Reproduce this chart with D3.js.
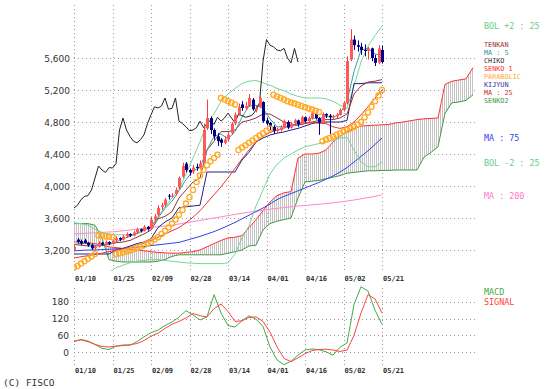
<!DOCTYPE html>
<html>
<head>
<meta charset="utf-8">
<script src="https://cdn.jsdelivr.net/npm/d3@7/dist/d3.min.js"></script>
<style>
  body { margin: 0; background: #fff; }
  svg { display: block; }
</style>
</head>
<body>
<div id="chart"></div>
<script>
// x axis labels, one every 11 sessions starting 01/10
var dateLabels = ["01/10", "01/25", "02/09", "02/28", "03/14", "04/01", "04/16", "05/02", "05/21"];
var priceTicks = [3200, 3600, 4000, 4400, 4800, 5200, 5600];
var macdTicks = [0, 60, 120, 180];

// daily candles, 89 sessions
var opens = [3200,3330,3310,3320,3290,3260,3220,3240,3290,3270, 3300,3280,3320,3350,3330,3370,3400,3380,3420,3460,
  3440,3490,3460,3580,3640,3740,3760,3880,3870,3900, 3980,4120,4280,4200,4180,4240,4230,4300,4720,4850,
  4700,4620,4580,4540,4580,4660,4780,4900,5020,4970, 5000,5080,4950,4990,5050,4820,4790,4740,4690,4700,
  4730,4800,4730,4790,4820,4770,4860,4810,4850,4900, 4850,4790,4900,4880,4860,4870,4890,4950,5040,5580,
  5830,5760,5740,5700,5690,5720,5600,5540,5700];
var highs = [3260,3350,3330,3340,3300,3280,3260,3310,3300,3320, 3310,3340,3370,3360,3390,3420,3410,3440,3480,3470,
  3510,3500,3620,3650,3760,3790,3850,3900,3910,3980, 4120,4290,4300,4220,4260,4280,4320,4780,5080,4870,
  4720,4660,4600,4620,4680,4800,4920,5030,5060,5050, 5150,5100,5000,5130,5060,4850,4800,4760,4730,4760,
  4830,4820,4800,4840,4830,4880,4870,4870,4930,4910, 4860,4920,4910,4900,4890,4910,4970,5060,5620,5960,
  5880,5820,5790,5770,5740,5730,5640,5760,5750];
var lows = [3180,3280,3260,3280,3240,3200,3200,3230,3250,3260, 3260,3270,3300,3310,3320,3350,3360,3370,3400,3420,
  3430,3440,3450,3560,3620,3700,3740,3830,3850,3880, 3960,4100,4170,4130,4150,4190,4210,4290,4700,4650,
  4580,4500,4490,4520,4560,4640,4760,4880,4940,4950, 4990,4940,4920,4980,4790,4760,4700,4650,4660,4680,
  4720,4710,4720,4760,4740,4760,4790,4800,4830,4830, 4640,4780,4850,4650,4840,4850,4880,4930,5020,5560,
  5700,5680,5640,5620,5580,5560,5500,5520,5530];
var closes = [3240,3300,3280,3290,3260,3220,3240,3290,3270,3300, 3280,3320,3350,3330,3370,3400,3380,3420,3460,3440,
  3490,3460,3580,3620,3725,3760,3830,3870,3880,3950, 4100,4250,4200,4170,4230,4225,4280,4700,4850,4700,
  4620,4560,4540,4580,4640,4780,4890,4990,4975,5000, 5100,4960,4970,5100,4810,4780,4740,4690,4700,4730,
  4810,4730,4780,4820,4770,4860,4810,4850,4910,4850, 4790,4900,4880,4860,4870,4890,4950,5040,5560,5830,
  5760,5740,5700,5690,5720,5600,5540,5720,5550];

// indicator lines, one value every 2 sessions from 01/10
var ma5 = [3270,3280,3280,3260,3260,3280,3300,3340,3370,3410,3450,3490,3600,3720,3810,3940,4080,4190,4230,4450,
  4620,4650,4590,4680,4860,5000,5010,4970,4840,4740,4740,4760,4780,4810,4850,4840,4870,4860,4900,5060,
  5430,5700,5720,5650,5630];
var ma25 = [3100,3115,3130,3145,3160,3180,3200,3215,3235,3260,3285,3320,3360,3400,3440,3480,3540,3610,3690,3790,
  3890,3990,4100,4220,4340,4450,4550,4620,4670,4700,4725,4760,4780,4790,4790,4785,4780,4740,4720,4740,
  4800,4890,4990,5100,5200];
var ma75 = [3190,3195,3200,3200,3205,3210,3215,3220,3225,3235,3245,3255,3265,3275,3285,3295,3320,3345,3370,3400,
  3430,3465,3505,3545,3590,3635,3680,3725,3775,3830,3870,3905,3940,3975,4010,4045,4085,4125,4175,4230,
  4300,4370,4440,4520,4600];
var ma200 = [3400,3405,3410,3415,3420,3425,3430,3440,3450,3460,3470,3480,3490,3500,3510,3525,3540,3555,3570,3585,
  3600,3615,3630,3645,3660,3672,3685,3697,3710,3720,3730,3740,3750,3757,3765,3772,3780,3790,3800,3812,
  3825,3840,3855,3870,3890];
var bolUp = [3540,3530,3510,3460,3420,3400,3390,3390,3390,3400,3440,3500,3620,3740,3850,3960,4150,4350,4550,4780,
  4900,5060,5150,5220,5280,5310,5320,5290,5260,5220,5190,5150,5120,5100,5100,5100,5090,5060,5010,4970,
  5250,5550,5750,5880,6000];
var bolDn = [2700,2720,2760,2800,2850,2920,2980,3010,3040,3060,3070,3080,3080,3070,3060,3050,3040,3035,3030,3030,
  3030,3030,3040,3150,3350,3500,3750,3950,4150,4270,4350,4400,4450,4490,4510,4530,4550,4570,4600,4610,
  4450,4300,4240,4240,4300];
var tenkan = [3270,3260,3250,3250,3260,3270,3290,3300,3320,3360,3400,3450,3590,3620,3680,3850,3950,4050,4100,4450,
  4560,4680,4680,4700,4800,4820,4850,4900,4900,4850,4800,4760,4760,4780,4800,4820,4830,4830,4850,4900,
  5150,5250,5300,5310,5330];
var kijun = [3150,3150,3150,3150,3150,3150,3200,3220,3250,3280,3300,3340,3480,3550,3600,3730,3740,3750,3760,4175,
  4175,4175,4175,4175,4325,4420,4550,4600,4637,4660,4675,4700,4720,4750,4780,4800,4800,4800,4800,4820,
  5280,5280,5290,5290,5290];
// leading spans run 26 sessions past the last candle
var senko1 = [3300,3300,3290,3280,3260,3240,3230,3220,3210,3200,3190,3180,3170,3165,3160,3160,3170,3180,3200,3240,
  3280,3320,3350,3360,3380,3480,3580,3690,3800,3880,3915,3930,4350,4400,4400,4410,4450,4550,4625,4680,
  4720,4750,4755,4760,4765,4770,4790,4800,4815,4830,4840,4845,4850,5270,5310,5325,5340,5480];
var senko2 = [3530,3530,3530,3510,3350,3080,3060,3050,3050,3050,3050,3050,3060,3080,3120,3140,3140,3140,3140,3140,
  3140,3140,3160,3180,3200,3250,3260,3450,3530,3560,3580,3600,3850,4050,4060,4070,4090,4110,4130,4160,
  4170,4180,4190,4190,4195,4195,4200,4200,4200,4200,4360,4420,4490,4910,5040,5050,5070,5140];
// parabolic SAR, one per session
var sar = [2980,3000,3030,3060,3090,3120,3150, 3380,3375,3370,3365,3360,
  3150,3160,3170,3180,3195,3210,3225,3240,3260,3280,3300,3330,3360,3400,3440,3480,3530,3580,3640,3700,3780,3860,3950,4050,4130,4200,4260,4310,4350,4390,
  5100,5080,5060,5040,5020,
  4450,4480,4510,4540,4570,4600,4630,4660,4690,4720,
  5140,5120,5100,5080,5060,5045,5030,5015,5000,4985,4970,4955,4940,4925,
  4560,4580,4600,4620,4640,4660,4680,4700,4720,4740,4770,4800,4860,4920,4990,5060,5130,5200];
var chikoLag = 24;

var macd = [38,46,40,28,14,10,22,26,25,38,55,70,79,95,108,125,148,133,115,126,205,140,95,90,112,130,118,92,19,-27,
  -44,-32,-10,8,12,9,2,-10,18,33,170,233,218,150,100];
var signal = [40,44,38,28,21,19,22,24,27,31,42,57,68,85,100,110,122,138,130,126,155,172,145,110,112,124,126,110,72,20,
  -22,-33,-20,-5,6,10,11,8,3,8,60,140,205,190,140];

var W = 549, H = 389;
var svg = d3.select("#chart").append("svg").attr("width", W).attr("height", H);

var x = d3.scaleLinear().domain([0, 114]).range([74, 473]);
var y = d3.scaleLinear().domain([3200, 5600]).range([250, 58]);
var ym = d3.scaleLinear().domain([0, 180]).range([352.3, 301.7]);

var gridCol = "#999";
var labelFont = "DejaVu Sans, sans-serif";
var monoFont = "DejaVu Sans Mono, monospace";

// grid
var grid = svg.append("g").attr("stroke", gridCol).attr("stroke-dasharray", "1,3").attr("stroke-width", 1);
dateLabels.forEach(function(d, i) {
  var gx = Math.round(x(i * 11)) + 0.5;
  grid.append("line").attr("x1", gx).attr("x2", gx).attr("y1", 5).attr("y2", 272);
  grid.append("line").attr("x1", gx).attr("x2", gx).attr("y1", 288).attr("y2", 367);
});
priceTicks.forEach(function(t) {
  var gy = Math.round(y(t)) + 0.5;
  grid.append("line").attr("x1", 74).attr("x2", 476).attr("y1", gy).attr("y2", gy);
});
macdTicks.forEach(function(t) {
  var gy = Math.round(ym(t)) + 0.5;
  grid.append("line").attr("x1", 74).attr("x2", 476).attr("y1", gy).attr("y2", gy);
});

// axis labels
svg.append("g").selectAll("text").data(priceTicks).enter().append("text")
  .attr("x", 70).attr("y", function(d) { return y(d) + 3.5; })
  .attr("text-anchor", "end").attr("font-family", labelFont).attr("font-size", 9).attr("fill", "#333")
  .text(function(d) { return d3.format(",")(d); });
svg.append("g").selectAll("text").data(macdTicks).enter().append("text")
  .attr("x", 69).attr("y", function(d) { return ym(d) + 3.5; })
  .attr("text-anchor", "end").attr("font-family", labelFont).attr("font-size", 9).attr("fill", "#333")
  .text(function(d) { return d; });
[281, 373].forEach(function(ty) {
  svg.append("g").selectAll("text").data(dateLabels).enter().append("text")
    .attr("x", function(d, i) { return x(i * 11) + 1; }).attr("y", ty)
    .attr("font-family", monoFont).attr("font-size", 7).attr("font-weight", "bold").attr("fill", "#333")
    .text(function(d) { return d; });
});

// main plot
svg.append("clipPath").attr("id", "clipMain").append("rect")
  .attr("x", 74).attr("y", 5).attr("width", 402).attr("height", 266);
var defs = svg.append("defs");
var pat = defs.append("pattern").attr("id", "hatch").attr("patternUnits", "userSpaceOnUse")
  .attr("width", 2).attr("height", 4);
pat.append("rect").attr("x", 0).attr("y", 0).attr("width", 1).attr("height", 4).attr("fill", "#c4c4c4");

var main = svg.append("g").attr("clip-path", "url(#clipMain)");

function pts(vals, step, start) {
  return vals.map(function(v, i) { return [start + i * step, v]; });
}

var cloud = d3.area()
  .x(function(d) { return x(d[0]); })
  .y0(function(d) { return y(d[1]); })
  .y1(function(d) { return y(d[2]); });
main.append("path")
  .attr("d", cloud(senko1.map(function(v, i) { return [i * 2, v, senko2[i]]; })))
  .attr("fill", "url(#hatch)");

var line = d3.line().x(function(d) { return x(d[0]); }).y(function(d) { return y(d[1]); });
function drawLine(vals, step, start, col) {
  main.append("path").attr("d", line(pts(vals, step, start)))
    .attr("fill", "none").attr("stroke", col).attr("stroke-width", 1);
}
drawLine(senko2, 2, 0, "#449944");
drawLine(senko1, 2, 0, "#ff3333");
drawLine(ma200, 2, 0, "#ff88cc");
drawLine(ma75, 2, 0, "#3344ee");
drawLine(bolUp, 2, 0, "#77d699");
drawLine(bolDn, 2, 0, "#77d699");
drawLine(kijun, 2, 0, "#222288");
drawLine(tenkan, 2, 0, "#993333");
drawLine(ma25, 2, 0, "#ee3333");
drawLine(ma5, 2, 0, "#33a0a0");
drawLine(closes.slice(chikoLag), 1, 0, "#222");

// candles
var candles = main.append("g");
closes.forEach(function(c, i) {
  var up = c >= opens[i];
  var col = up ? "#ff3b3b" : "#000088";
  var cx = Math.round(x(i)) + 0.5;
  candles.append("line").attr("x1", cx).attr("x2", cx).attr("y1", y(highs[i])).attr("y2", y(lows[i]))
    .attr("stroke", col).attr("stroke-width", 1);
  var top = y(Math.max(c, opens[i])), bot = y(Math.min(c, opens[i]));
  candles.append("rect").attr("x", cx - 1.5).attr("width", 3)
    .attr("y", top).attr("height", Math.max(1, bot - top))
    .attr("fill", up ? "#ff5a5a" : "#000088");
});

// parabolic
main.append("g").selectAll("circle").data(sar).enter().append("circle")
  .attr("cx", function(d, i) { return x(i); }).attr("cy", function(d) { return y(d); })
  .attr("r", 2.6).attr("fill", "none").attr("stroke", "#ffaa22").attr("stroke-width", 1.3);

// MACD panel
var lineM = d3.line().x(function(d) { return x(d[0]); }).y(function(d) { return ym(d[1]); });
svg.append("path").attr("d", lineM(pts(macd, 2, 0))).attr("fill", "none").attr("stroke", "#44aa44");
svg.append("path").attr("d", lineM(pts(signal, 2, 0))).attr("fill", "none").attr("stroke", "#ff4444");

// legend labels, stacked tight like the source chart
var legend = [
  {t: "BOL +2 : 25", y: 29, c: "#66cc88", s: 8.4},
  {t: "TENKAN", y: 47, c: "#993333", s: 6.8},
  {t: "MA : 5", y: 55, c: "#339999", s: 6.8},
  {t: "CHIKO", y: 63, c: "#333333", s: 6.8},
  {t: "SENKO 1", y: 71, c: "#ff3333", s: 6.8},
  {t: "PARABOLIC", y: 79, c: "#ffaa33", s: 6.8},
  {t: "KIJYUN", y: 87, c: "#333399", s: 6.8},
  {t: "MA : 25", y: 95, c: "#cc3333", s: 6.8},
  {t: "SENKO2", y: 103, c: "#449944", s: 6.8},
  {t: "MA : 75", y: 141, c: "#3344ee", s: 8.4},
  {t: "BOL -2 : 25", y: 166, c: "#66cc88", s: 8.4},
  {t: "MA : 200", y: 199, c: "#ff77cc", s: 8.4},
  {t: "MACD", y: 295, c: "#44aa44", s: 8.4},
  {t: "SIGNAL", y: 305, c: "#ff4444", s: 8.4}
];
svg.append("g").selectAll("text").data(legend).enter().append("text")
  .attr("x", 484).attr("y", function(d) { return d.y; })
  .attr("font-family", monoFont).attr("font-size", function(d) { return d.s; })
  .attr("fill", function(d) { return d.c; })
  .text(function(d) { return d.t; });

svg.append("text").attr("x", 3).attr("y", 386)
  .attr("font-family", monoFont).attr("font-size", 9.5).attr("fill", "#333")
  .text("(C) FISCO");
</script>
</body>
</html>
